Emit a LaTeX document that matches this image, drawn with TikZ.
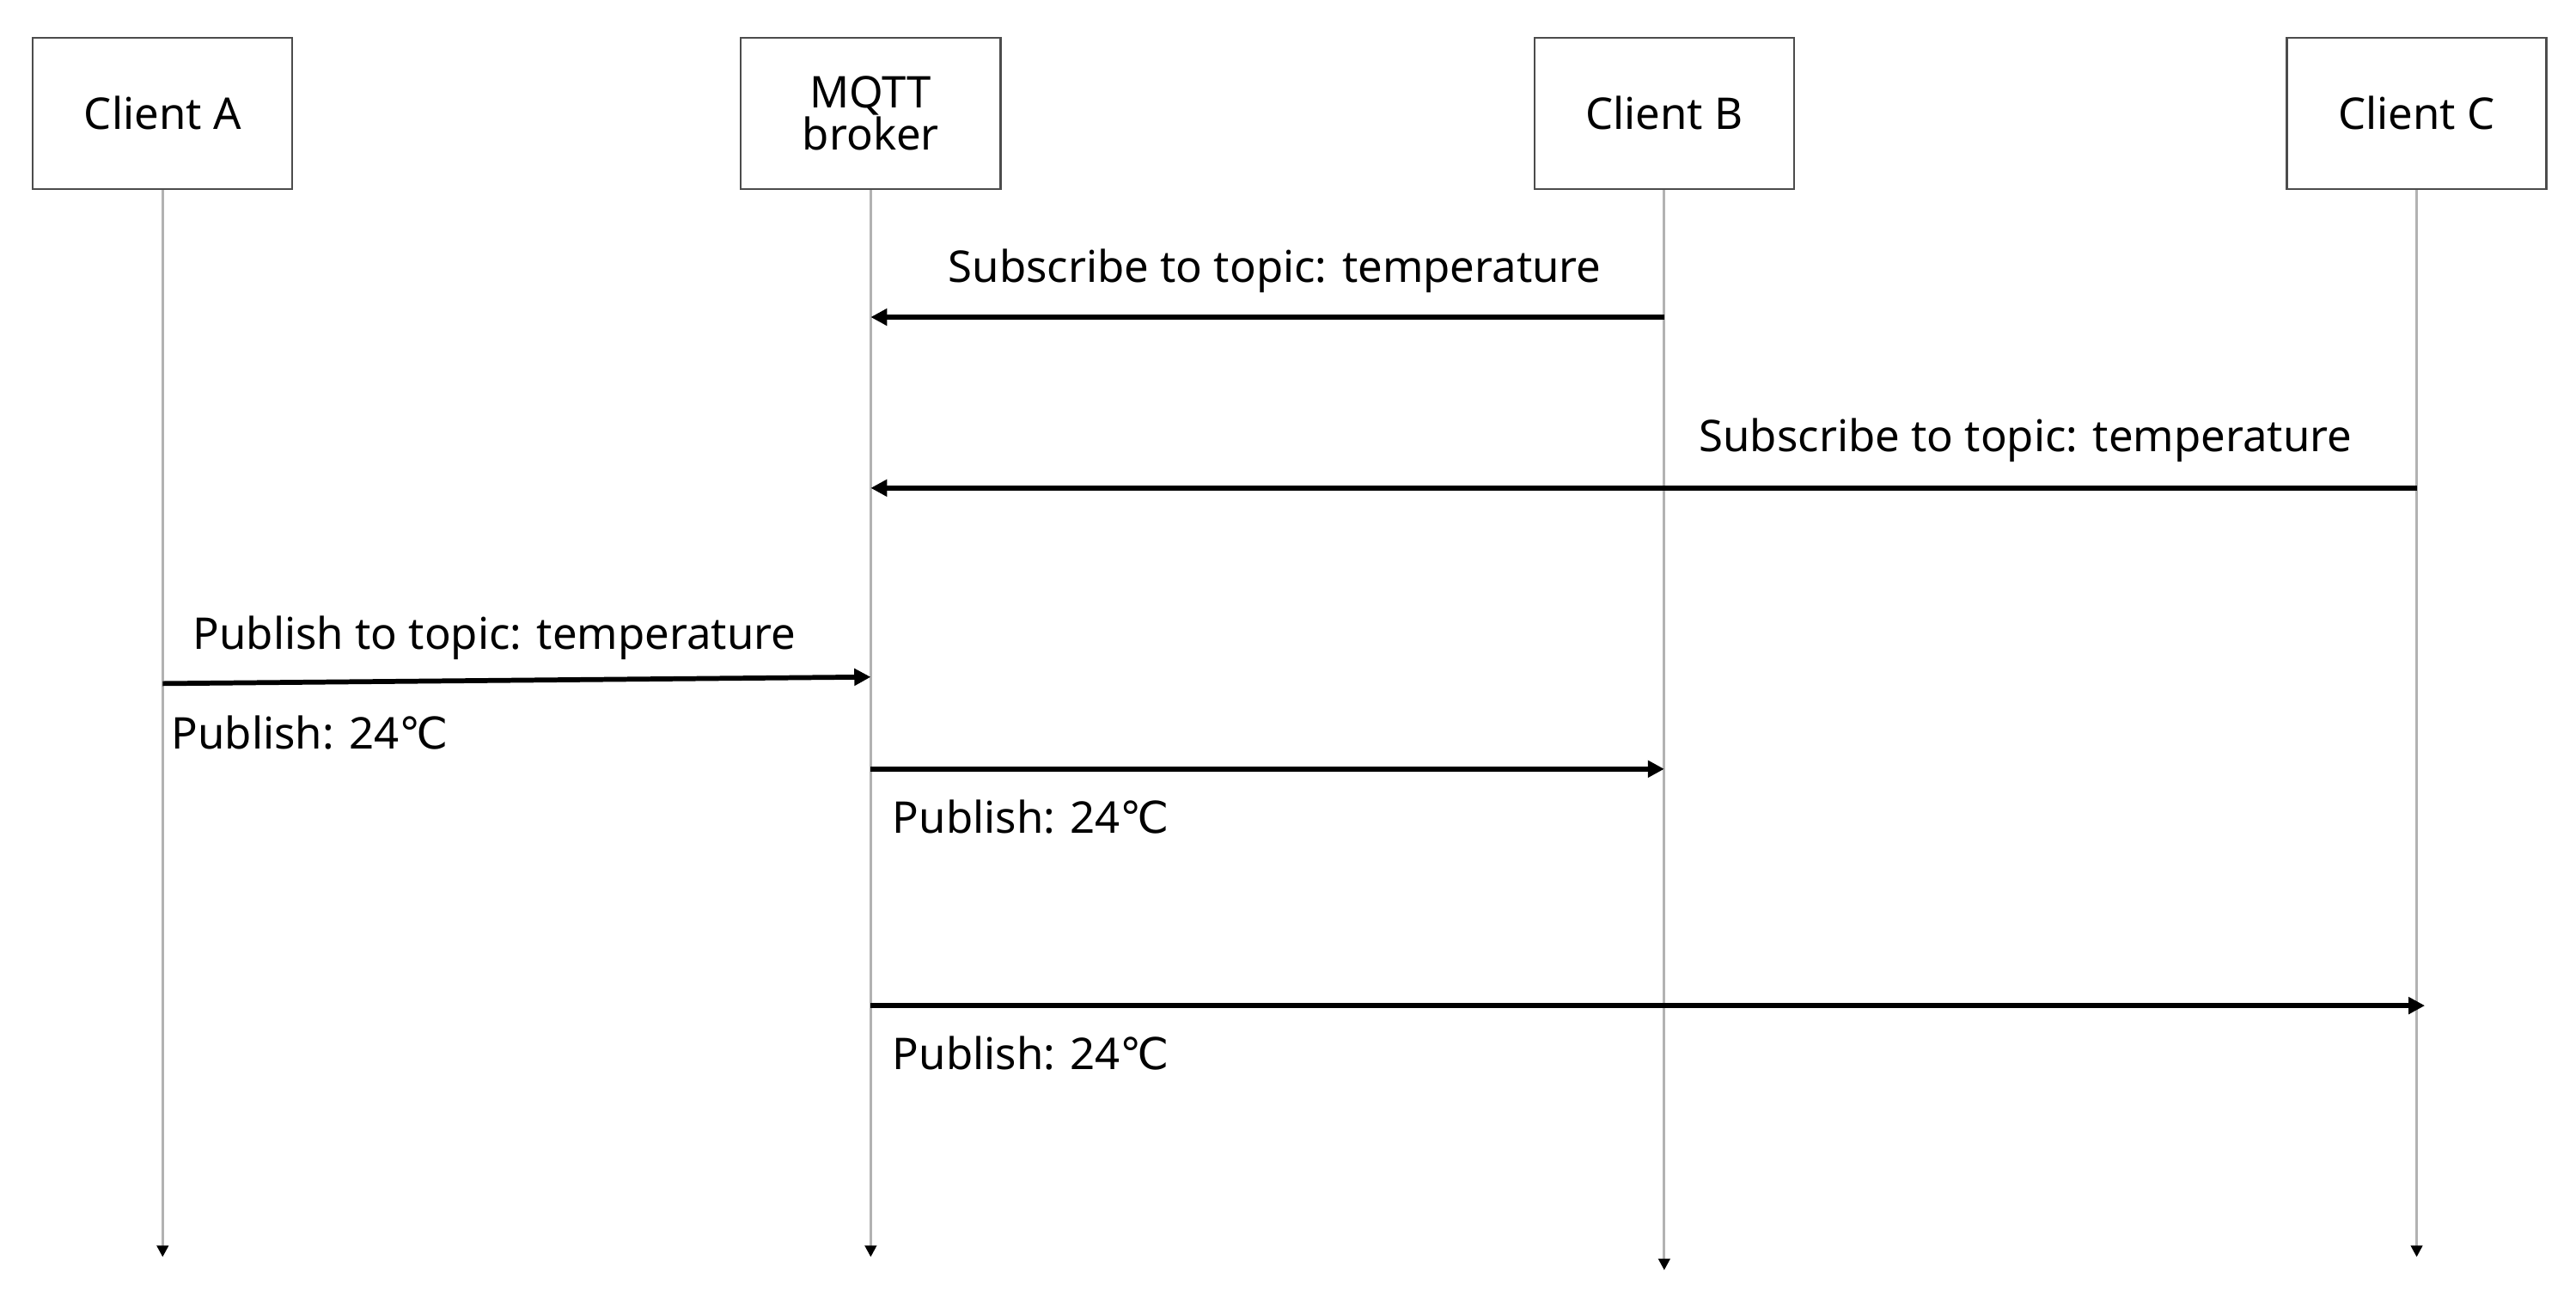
\documentclass[tikz,border=0pt]{standalone}
\usepackage{fontspec}
\setmainfont{Noto Sans}
\newfontfamily\sym{DejaVu Sans}
\usetikzlibrary{arrows.meta}
\begin{document}
\begin{tikzpicture}[x=0.5pt,y=-0.5pt,font=\fontsize{13.3}{15}\selectfont,
  actor/.style={draw=black!70,line width=0.6pt,minimum width=79pt,minimum height=46pt,align=center,inner sep=0pt},
  life/.style={draw=black!30,line width=0.8pt,-{Triangle[length=3.5pt,width=3.5pt,color=black]}},
  msg/.style={draw=black,line width=1.5pt,-{Triangle[length=5pt,width=5pt]}},
  lbl/.style={inner sep=0pt}]
\useasboundingbox (0,0) rectangle (1568,796);
\node[actor] (A) at (99,69) {Client A};
\node[actor] (M) at (530,69) {MQTT\\[-2pt]broker};
\node[actor] (B) at (1013,69) {Client B};
\node[actor] (C) at (1471,69) {Client C};
\coordinate (Ae) at (99,765); \coordinate (Me) at (530,765);
\coordinate (Be) at (1013,773); \coordinate (Ce) at (1471,765);
\draw[life] (A.south) -- (Ae);
\draw[life] (M.south) -- (Me);
\draw[life] (B.south) -- (Be);
\draw[life] (C.south) -- (Ce);
\coordinate (b1) at (1013,193); \coordinate (m1) at (530,193);
\coordinate (c2) at (1471,297); \coordinate (m2) at (530,297);
\coordinate (a3) at (99,416); \coordinate (m3) at (530,412);
\coordinate (m4) at (530,468); \coordinate (b4) at (1013,468);
\coordinate (m5) at (530,612); \coordinate (c5) at (1476,612);
\draw[msg] (b1) -- (m1);
\draw[msg] (c2) -- (m2);
\draw[msg] (a3) -- (m3);
\draw[msg] (m4) -- (b4);
\draw[msg] (m5) -- (c5);
\node[lbl] (t1) at (776,165) {Subscribe to topic: temperature};
\node[lbl] (t2) at (1233,268) {Subscribe to topic: temperature};
\node[lbl] (t3) at (301,388) {Publish to topic: temperature};
\node[lbl,anchor=west] (t4) at (104,446) {Publish: 24{\sym ℃}};
\node[lbl,anchor=west] (t5) at (543,497) {Publish: 24{\sym ℃}};
\node[lbl,anchor=west] (t6) at (543,641) {Publish: 24{\sym ℃}};
\end{tikzpicture}
\end{document}
